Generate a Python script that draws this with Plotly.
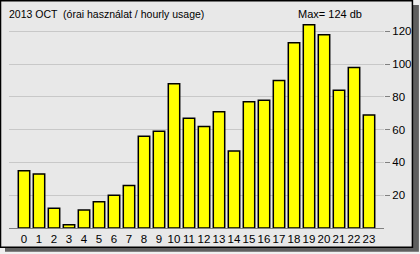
import plotly.graph_objects as go

hours = list(range(24))
usage = [35, 33, 12, 2, 11, 16, 20, 26, 56, 59, 88, 67, 62, 71, 47, 77, 78, 90, 113, 124, 118, 84, 98, 69]
y_ticks = [20, 40, 60, 80, 100, 120]
title_text = "2013 OCT  (órai használat / hourly usage)"
max_text = "Max= 124 db"

W, H = 420, 254
L, R, T, B = 9, 35, 15, 24
pw, ph = W - L - R, H - T - B

def px(x):
    return (x - L) / pw

def py(y):
    return (H - B - y) / ph

fig = go.Figure()
fig.add_trace(go.Bar(
    x=hours, y=usage, width=0.76,
    marker=dict(color="#FFFF00", line=dict(color="#000000", width=1.5)),
))

shapes = [
    dict(type="rect", xref="paper", yref="paper", x0=px(5), x1=px(420), y0=py(5), y1=py(254),
         fillcolor="#5f5f5f", line=dict(width=0), layer="below"),
    dict(type="rect", xref="paper", yref="paper", x0=px(0.5), x1=px(413.5), y0=py(0.5), y1=py(249.5),
         fillcolor="#E8E8E8", line=dict(color="#000000", width=1.5), layer="below"),
]

fig.update_layout(
    width=W, height=H,
    margin=dict(l=L, r=R, t=T, b=B, pad=0),
    paper_bgcolor="#F0F0F0",
    plot_bgcolor="rgba(0,0,0,0)",
    showlegend=False,
    shapes=shapes,
    font=dict(family="Liberation Sans", size=11, color="#000000"),
    xaxis=dict(range=[-1, 24], tickvals=hours, ticktext=[str(h) for h in hours], tickangle=0,
               showgrid=False, zeroline=False, showline=True, linecolor="#808080", linewidth=1,
               ticks="", tickfont=dict(size=11.5), fixedrange=True),
    yaxis=dict(range=[0, 130], side="right", tickvals=y_ticks, ticktext=[str(v) for v in y_ticks],
               showgrid=True, gridcolor="#C8C8C8", gridwidth=1, zeroline=False,
               ticks="outside", ticklen=5, tickcolor="#808080", tickfont=dict(size=11.5), fixedrange=True),
    annotations=[
        dict(text=title_text, xref="paper", yref="paper", x=px(7), y=py(14), xanchor="left", yanchor="middle",
             showarrow=False, font=dict(size=10.5)),
        dict(text=max_text, xref="paper", yref="paper", x=px(331), y=py(14), xanchor="center", yanchor="middle",
             showarrow=False, font=dict(size=11)),
    ],
)

fig.write_html("out.html")
